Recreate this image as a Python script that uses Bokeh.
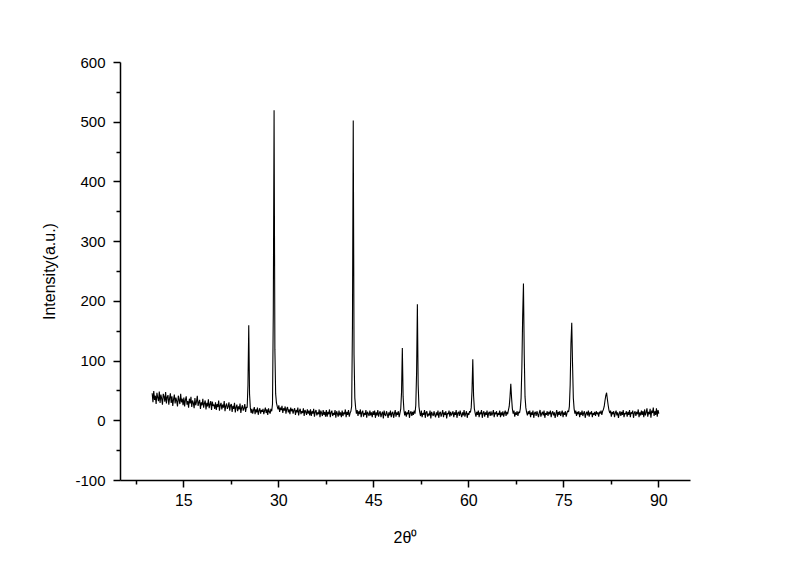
import numpy as np
from bokeh.plotting import figure
from bokeh.models import Range1d, FixedTicker
from bokeh.embed import file_html
from bokeh.resources import INLINE

# 2-theta sampling grid (instrument step 0.125 deg), from 10 to 90 deg
two_theta_start = 10.0
two_theta_step = 0.125

# Intensity values, one row per 2.5 degrees
intensity_rows = [
    [46, 31, 50, 35, 42, 28, 47, 39, 33, 49, 30, 44, 37, 27, 45, 41, 32, 48, 29, 40],   # 10.0
    [43, 27, 38, 46, 30, 41, 25, 36, 44, 29, 39, 33, 24, 42, 35, 28, 45, 31, 37, 26],   # 12.5
    [39, 24, 35, 41, 27, 33, 22, 37, 29, 40, 23, 34, 30, 21, 38, 26, 32, 42, 25, 31],   # 15.0
    [35, 20, 31, 26, 37, 22, 29, 34, 19, 30, 24, 36, 21, 28, 33, 18, 32, 25, 27, 20],   # 17.5
    [31, 18, 28, 23, 34, 17, 26, 30, 19, 27, 22, 33, 16, 25, 29, 20, 24, 31, 17, 26],   # 20.0
    [28, 15, 25, 20, 30, 14, 23, 27, 16, 24, 19, 29, 13, 22, 26, 17, 21, 28, 15, 23],   # 22.5
    [22, 60, 160, 45, 22, 13, 20, 12, 18, 23, 11, 19, 14, 22, 10, 17, 21, 12, 18, 15],  # 25.0
    [20, 11, 17, 22, 13, 19, 10, 21, 15, 12, 20, 16, 28, 180, 520, 120, 45, 30, 24, 19],# 27.5
    [26, 15, 22, 18, 25, 13, 21, 17, 24, 12, 20, 23, 14, 19, 11, 22, 16, 20, 12, 18],   # 30.0
    [21, 10, 18, 14, 22, 9, 17, 20, 11, 16, 13, 21, 8, 18, 15, 10, 19, 12, 17, 9],      # 32.5
    [19, 8, 16, 12, 20, 7, 15, 18, 9, 14, 11, 19, 6, 17, 13, 8, 18, 10, 15, 7],         # 35.0
    [18, 7, 15, 11, 19, 6, 14, 17, 8, 13, 10, 18, 5, 16, 12, 7, 17, 9, 14, 6],          # 37.5
    [17, 8, 14, 11, 19, 6, 15, 10, 18, 7, 13, 16, 24, 160, 503, 110, 38, 22, 12, 18],   # 40.0
    [8, 16, 11, 19, 6, 14, 17, 7, 13, 10, 18, 5, 15, 12, 8, 17, 9, 14, 6, 16],          # 42.5
    [10, 17, 5, 14, 9, 18, 7, 13, 16, 6, 12, 15, 4, 17, 10, 8, 16, 11, 5, 14],          # 45.0
    [9, 17, 6, 13, 15, 5, 12, 18, 7, 14, 10, 16, 6, 13, 20, 48, 122, 40, 18, 9],        # 47.5
    [16, 7, 14, 11, 18, 5, 13, 16, 8, 15, 10, 17, 12, 26, 80, 195, 60, 24, 14, 8],      # 50.0
    [17, 6, 13, 10, 18, 5, 14, 16, 7, 12, 9, 17, 4, 15, 11, 8, 16, 10, 6, 14],          # 52.5
    [9, 17, 5, 13, 15, 7, 12, 18, 6, 14, 10, 16, 4, 13, 11, 17, 7, 15, 9, 12],          # 55.0
    [16, 6, 14, 10, 18, 5, 13, 15, 8, 17, 11, 6, 14, 9, 18, 7, 12, 16, 5, 13],          # 57.5
    [10, 16, 14, 22, 50, 103, 42, 20, 13, 7, 15, 10, 17, 6, 14, 11, 18, 5, 13, 16],     # 60.0
    [7, 14, 10, 17, 5, 13, 15, 8, 16, 9, 12, 18, 6, 14, 11, 16, 7, 13, 10, 17],         # 62.5
    [6, 14, 9, 16, 7, 13, 17, 8, 15, 11, 18, 24, 40, 62, 38, 20, 12, 17, 7, 14],        # 65.0
    [10, 16, 8, 15, 13, 20, 38, 90, 175, 230, 110, 40, 22, 14, 9, 16, 11, 17, 6, 14],   # 67.5
    [10, 17, 5, 13, 15, 8, 16, 11, 6, 14, 18, 7, 12, 15, 9, 17, 5, 13, 10, 16],         # 70.0
    [8, 15, 11, 17, 6, 13, 16, 9, 14, 5, 12, 18, 7, 15, 10, 16, 8, 13, 17, 6],          # 72.5
    [14, 10, 16, 7, 13, 17, 15, 24, 60, 130, 164, 95, 38, 20, 12, 17, 8, 15, 11, 16],   # 75.0
    [6, 14, 10, 17, 8, 13, 16, 5, 12, 15, 9, 17, 7, 14, 11, 16, 6, 13, 10, 15],         # 77.5
    [8, 16, 11, 14, 7, 15, 12, 17, 10, 16, 19, 24, 34, 42, 47, 36, 26, 18, 13, 17],     # 80.0
    [7, 15, 11, 16, 6, 13, 17, 9, 14, 5, 12, 16, 8, 15, 10, 18, 6, 13, 11, 16],         # 82.5
    [7, 15, 10, 18, 6, 14, 12, 17, 5, 13, 16, 8, 15, 11, 19, 6, 14, 9, 17, 10],         # 85.0
    [16, 6, 19, 9, 14, 21, 7, 15, 11, 20, 5, 17, 13, 22, 8, 16, 10, 21, 7, 18],         # 87.5
    [12],                                                                                 # 90.0
]

x_ticks = [15, 30, 45, 60, 75, 90]
x_minor = [7.5, 22.5, 37.5, 52.5, 67.5, 82.5]
y_ticks = [-100, 0, 100, 200, 300, 400, 500, 600]
y_minor = [-50, 50, 150, 250, 350, 450, 550]

intensity = np.array([v for row in intensity_rows for v in row], dtype=float)
two_theta = two_theta_start + two_theta_step * np.arange(len(intensity))

p = figure(width=784, height=548, x_range=Range1d(5, 95), y_range=Range1d(-100, 600),
           output_backend="svg", toolbar_location=None,
           min_border_left=120, min_border_right=94, min_border_top=62, min_border_bottom=66)
p.outline_line_color = None
p.xgrid.grid_line_color = None
p.ygrid.grid_line_color = None
p.background_fill_color = "white"
p.border_fill_color = "white"

p.line(two_theta, intensity, line_color="black", line_width=1.1)

p.xaxis.ticker = FixedTicker(ticks=x_ticks, minor_ticks=x_minor)
p.yaxis.ticker = FixedTicker(ticks=y_ticks, minor_ticks=y_minor)
p.yaxis.major_label_overrides = {t: str(t) for t in y_ticks}

for ax in (p.xaxis[0], p.yaxis[0]):
    ax.axis_line_width = 1.5
    ax.axis_line_color = "black"
    ax.major_tick_line_width = 1.5
    ax.minor_tick_line_width = 1.5
    ax.major_tick_out = 7
    ax.major_tick_in = 0
    ax.minor_tick_out = 4
    ax.minor_tick_in = 0
    ax.major_label_text_font = "Liberation Sans"
    ax.major_label_text_color = "black"
    ax.axis_label_text_font = "Liberation Sans"
    ax.axis_label_text_font_style = "normal"
    ax.axis_label_text_color = "black"
    ax.axis_label_text_font_size = "16px"

p.xaxis.major_label_text_font_size = "16px"
p.yaxis.major_label_text_font_size = "15px"
p.xaxis.major_label_standoff = 6
p.yaxis.major_label_standoff = 8

p.xaxis.axis_label = "2θ⁰"
p.yaxis.axis_label = "Intensity(a.u.)"
p.xaxis.axis_label_standoff = 20
p.yaxis.axis_label_standoff = 14

open("out.html", "w").write(file_html(p, INLINE))
